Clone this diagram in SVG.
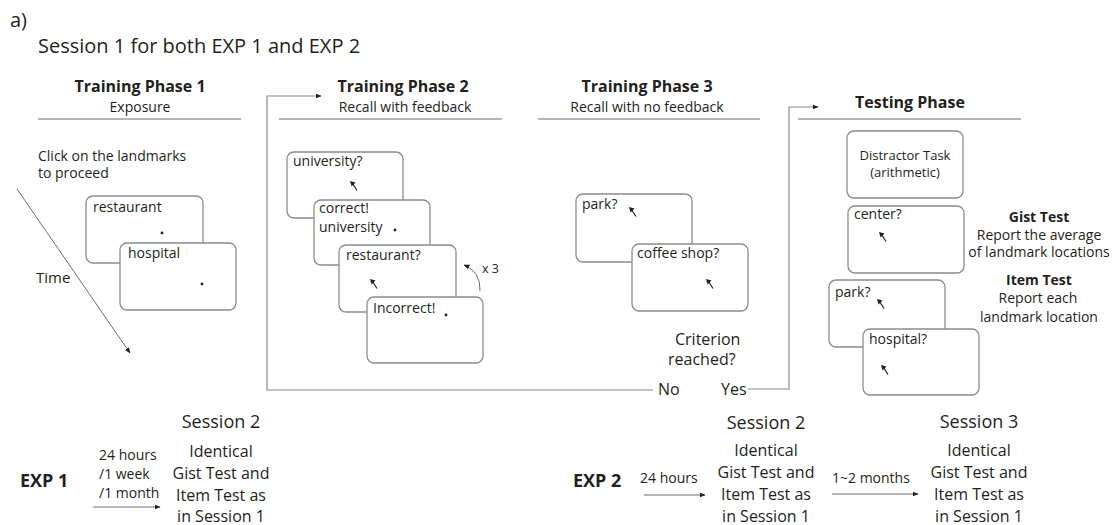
<svg xmlns="http://www.w3.org/2000/svg" width="1117" height="525" viewBox="0 0 1117 525">
<style>
text{font-family:"Open Sans","Noto Sans","Liberation Sans",sans-serif;fill:#231f20}
.t20{font-size:20px}
.h{font-size:16px;font-weight:bold;text-anchor:middle}
.sub{font-size:14px;text-anchor:middle}
.lbl{font-size:14px}
.c14{font-size:14px;text-anchor:middle}
.c16{font-size:16px;text-anchor:middle}
.s18{font-size:18px;text-anchor:middle}
.b14{font-size:14px;font-weight:bold;text-anchor:middle}
.exp{font-size:18px;font-weight:bold}
.n14{font-size:14px}
.n16{font-size:16px}
.box{fill:#fff;stroke:#8c8c8c;stroke-width:1.3}
.rule{stroke:#6d6d6d;stroke-width:1.2;fill:none}
.con{stroke:#8a8a8a;stroke-width:1.2;fill:none}
.arr{stroke:#6d6d6d;stroke-width:1;fill:none}
.dot{fill:#231f20}
</style>
<defs>
<marker id="ah" viewBox="0 0 10 10" refX="9" refY="5" markerWidth="6" markerHeight="6" orient="auto" markerUnits="userSpaceOnUse">
<path d="M0,1 L10,5 L0,9 Z" fill="#231f20"/>
</marker>
<g id="cur">
<path d="M0,0 L5.5,1.6 L1.6,5.5 Z" fill="#231f20"/>
<line x1="2.5" y1="2.5" x2="7" y2="9.5" stroke="#231f20" stroke-width="1.2"/>
</g>
</defs>

<g id="header">
<text class="t20" x="10" y="27">a)</text>
<text class="t20" x="38" y="53">Session 1 for both EXP 1 and EXP 2</text>
</g>

<g id="phase1">
<text class="h" x="140" y="92">Training Phase 1</text>
<text class="sub" x="140" y="112">Exposure</text>
<line class="rule" x1="38" y1="119" x2="241" y2="119"/>
<text class="lbl" x="38" y="161">Click on the landmarks</text>
<text class="lbl" x="38" y="178">to proceed</text>
<text class="lbl" x="36" y="283" style="font-size:15px">Time</text>
</g>
<g id="p1-restaurant">
<rect class="box" x="86" y="196" width="117" height="67" rx="7"/>
<text class="lbl" x="93" y="212">restaurant</text>
<circle class="dot" cx="162" cy="233" r="1.4"/>
</g>
<g id="p1-hospital">
<rect class="box" x="120" y="243" width="116" height="67" rx="7"/>
<text class="lbl" x="128" y="258">hospital</text>
<circle class="dot" cx="202" cy="284" r="1.4"/>
</g>

<g id="phase2">
<text class="h" x="403" y="92">Training Phase 2</text>
<text class="sub" x="405" y="112">Recall with feedback</text>
<line class="rule" x1="279" y1="119" x2="502" y2="119"/>
</g>
<g id="p2-university">
<rect class="box" x="287" y="152" width="116" height="66" rx="7"/>
<text class="lbl" x="293" y="166">university?</text>
<use href="#cur" x="350" y="181"/>
</g>
<g id="p2-correct">
<rect class="box" x="314" y="200" width="116" height="65" rx="7"/>
<text class="lbl" x="319" y="213">correct!</text>
<text class="lbl" x="319" y="232">university</text>
<circle class="dot" cx="395" cy="230" r="1.4"/>
</g>
<g id="p2-restaurant">
<rect class="box" x="339" y="245" width="117" height="67" rx="7"/>
<text class="lbl" x="346" y="260">restaurant?</text>
<use href="#cur" x="370" y="279"/>
</g>
<g id="p2-incorrect">
<rect class="box" x="367" y="297" width="116" height="66" rx="7"/>
<text class="lbl" x="373" y="313">Incorrect!</text>
<circle class="dot" cx="446" cy="315" r="1.4"/>
</g>
<g id="repeat">
<text class="n14" x="482" y="273" style="font-size:12.5px">x 3</text>
</g>

<g id="phase3">
<text class="h" x="647" y="92">Training Phase 3</text>
<text class="sub" x="647" y="112">Recall with no feedback</text>
<line class="rule" x1="538" y1="119" x2="760" y2="119"/>
</g>
<g id="p3-park">
<rect class="box" x="576" y="194" width="116" height="68" rx="7"/>
<text class="lbl" x="582" y="209">park?</text>
<use href="#cur" x="629" y="207"/>
</g>
<g id="p3-coffee">
<rect class="box" x="632" y="244" width="116" height="67" rx="7"/>
<text class="lbl" x="637" y="258">coffee shop?</text>
<use href="#cur" x="706" y="279"/>
</g>
<g id="criterion">
<text class="n16" x="675" y="345">Criterion</text>
<text class="n16" x="668" y="365">reached?</text>
<text class="n16" x="658" y="395">No</text>
<text class="n16" x="721" y="395">Yes</text>
</g>

<g id="testing">
<text class="h" x="910" y="108">Testing Phase</text>
<line class="rule" x1="798" y1="119" x2="1021" y2="119"/>
</g>
<g id="t-distractor">
<rect class="box" x="847" y="131" width="116" height="67" rx="7"/>
<text class="c14" x="905" y="160" style="font-size:13px">Distractor Task</text>
<text class="c14" x="905" y="177" style="font-size:13px">(arithmetic)</text>
</g>
<g id="t-center">
<rect class="box" x="848" y="206" width="116" height="67" rx="7"/>
<text class="lbl" x="854" y="219">center?</text>
<use href="#cur" x="879" y="232"/>
</g>
<g id="t-park">
<rect class="box" x="829" y="280" width="116" height="67" rx="7"/>
<text class="lbl" x="835" y="297">park?</text>
<use href="#cur" x="877" y="299"/>
</g>
<g id="t-hospital">
<rect class="box" x="863" y="329" width="116" height="66" rx="7"/>
<text class="lbl" x="869" y="344">hospital?</text>
<use href="#cur" x="881" y="365"/>
</g>
<g id="gist">
<text class="b14" x="1039" y="222">Gist Test</text>
<text class="c14" x="1039" y="240">Report the average</text>
<text class="c14" x="1039" y="257">of landmark locations</text>
</g>
<g id="item">
<text class="b14" x="1039" y="285">Item Test</text>
<text class="c14" x="1038" y="303">Report each</text>
<text class="c14" x="1039" y="322">landmark location</text>
</g>

<g id="exp1">
<text class="exp" x="20" y="487">EXP 1</text>
<text class="n14" x="99" y="460">24 hours</text>
<text class="n14" x="99" y="479">/1 week</text>
<text class="n14" x="99" y="498">/1 month</text>
</g>
<g id="exp1-session2">
<text class="s18" x="221" y="428">Session 2</text>
<text class="c16" x="221" y="457">Identical</text>
<text class="c16" x="221" y="479">Gist Test and</text>
<text class="c16" x="221" y="501">Item Test as</text>
<text class="c16" x="221" y="522">in Session 1</text>
</g>
<g id="exp2">
<text class="exp" x="573" y="487">EXP 2</text>
<text class="n14" x="640" y="483">24 hours</text>
<text class="n14" x="832" y="483">1~2 months</text>
</g>
<g id="exp2-session2">
<text class="s18" x="766" y="429">Session 2</text>
<text class="c16" x="766" y="456">Identical</text>
<text class="c16" x="766" y="478">Gist Test and</text>
<text class="c16" x="766" y="500">Item Test as</text>
<text class="c16" x="766" y="522">in Session 1</text>
</g>
<g id="exp2-session3">
<text class="s18" x="979" y="428">Session 3</text>
<text class="c16" x="979" y="456">Identical</text>
<text class="c16" x="979" y="478">Gist Test and</text>
<text class="c16" x="979" y="500">Item Test as</text>
<text class="c16" x="979" y="522">in Session 1</text>
</g>

<g id="connectors">
<line class="arr" x1="17" y1="189" x2="130" y2="353" marker-end="url(#ah)"/>
<path class="con" d="M653,390 H267 V96 H321" marker-end="url(#ah)"/>
<path class="con" d="M748,389 H789 V107 H818" marker-end="url(#ah)"/>
<path class="arr" d="M480,291 Q481,272 464,265" marker-end="url(#ah)"/>
<line class="arr" x1="93" y1="507" x2="160" y2="507" marker-end="url(#ah)"/>
<line class="arr" x1="644" y1="495" x2="705" y2="495" marker-end="url(#ah)"/>
<line class="arr" x1="832" y1="494" x2="918" y2="494" marker-end="url(#ah)"/>
</g>
</svg>
